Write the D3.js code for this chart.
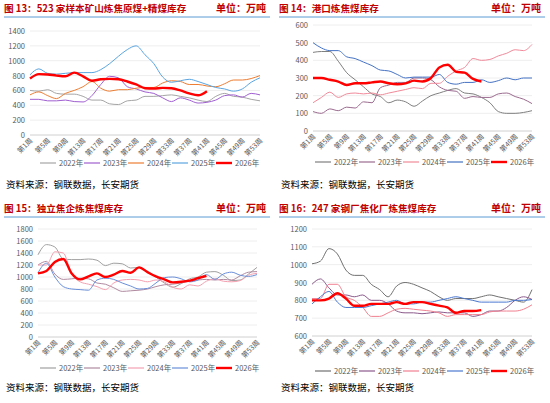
<!DOCTYPE html>
<html><head><meta charset="utf-8">
<script src="https://cdn.jsdelivr.net/npm/d3@7"></script>
<style>body{margin:0;background:#fff}text{font-family:"Noto Sans CJK SC","Noto Sans",sans-serif}</style>
</head><body><div id="chart"></div>
<script>
// weeks 1,3,5,...,53 (2026 to week 41)
const years = ["2022年","2023年","2024年","2025年","2026年"]
const tickWeeks = [1,5,9,13,17,21,25,29,33,37,41,45,49,53]

const p13_2022 = [600,590,610,560,550,550,520,470,470,420,410,460,470,520,520,530,540,520,500,470,450,520,560,520,510,480,460]
const p13_2023 = [480,480,460,460,470,450,445,530,680,790,770,650,620,580,560,500,450,500,470,430,440,470,530,540,510,560,540]
const p13_2024 = [540,580,530,490,560,600,650,720,630,590,610,610,630,640,640,700,730,720,680,680,660,650,690,740,740,760,800]
const p13_2025 = [810,890,830,820,830,840,840,840,880,960,1060,1150,1200,1080,960,780,710,730,750,720,680,640,620,590,620,710,770]
const p13_2026 = [760,820,815,800,790,840,790,730,750,755,750,720,680,630,625,635,630,600,560,535,590]

const p14_2022 = [445,450,450,395,330,290,250,210,195,160,175,165,140,170,200,215,230,240,215,210,190,160,110,100,100,105,115]
const p14_2023 = [110,100,125,115,135,130,165,160,245,260,275,275,300,300,290,250,230,225,185,195,190,190,210,215,195,180,155]
const p14_2024 = [160,190,220,190,210,215,210,215,205,215,225,235,245,240,270,270,310,340,360,410,400,405,425,440,460,455,490]
const p14_2025 = [500,470,455,455,420,410,390,370,345,340,320,300,305,305,305,320,275,265,275,275,290,275,285,300,290,300,300]
const p14_2026 = [300,300,290,280,260,270,270,275,280,270,265,270,285,280,300,360,375,335,330,295,280]

const p15_2022 = [1370,1540,1500,1300,1290,1290,1300,1280,1190,1230,1220,1150,1160,1100,1000,900,830,890,970,1000,1080,1090,1030,940,950,1050,1160]
const p15_2023 = [1200,1260,1050,960,970,980,970,900,880,820,760,770,780,800,840,870,880,900,930,950,960,950,960,950,1020,1080,1090]
const p15_2024 = [1200,1200,1420,1400,1050,920,880,840,790,900,950,960,950,920,950,920,830,800,870,850,930,970,930,920,940,1030,1060]
const p15_2025 = [1070,1230,1000,840,800,790,780,950,980,960,900,850,800,810,900,990,1000,970,920,950,1040,960,1050,1080,1030,1010,1040]
const p15_2026 = [1060,1100,1250,1300,1060,960,1010,1060,1000,1040,1100,1070,1160,1080,1010,960,910,920,940,980,1020]

const p16_2022 = [1005,1020,1090,1060,970,940,940,890,860,820,880,900,890,870,850,820,800,810,810,810,820,830,820,810,800,790,860]
const p16_2023 = [890,920,870,830,830,820,830,800,800,780,740,730,730,725,730,735,730,730,730,710,720,740,740,760,800,820,805]
const p16_2024 = [810,810,890,890,820,800,760,710,710,730,750,755,750,745,740,730,710,720,720,720,720,735,740,740,740,750,775]
const p16_2025 = [780,820,850,790,760,760,760,770,780,790,800,780,780,790,790,800,810,820,810,800,790,790,790,790,800,800,805]
const p16_2026 = [800,800,810,840,810,770,770,780,780,780,790,780,790,790,780,770,760,730,740,740,745]

const panels = [
  {x:0, y:0, title:"图 13：523 家样本矿山炼焦原煤+精煤库存", max:1400, min:0, step:200,
   plot:[30,260,31,135], legendY:163, sourceY:188,
   series:[p13_2022,p13_2023,p13_2024,p13_2025,p13_2026],
   colors:["#a5a5a5","#a05fd0","#ed7d31","#5aa5e0","#ff0000"]},
  {x:275, y:0, title:"图 14：港口炼焦煤库存", max:600, min:0, step:100,
   plot:[38,257,25,131], legendY:162, sourceY:188,
   series:[p14_2022,p14_2023,p14_2024,p14_2025,p14_2026],
   colors:["#7f7f7f","#9b6b8f","#f08a9a","#4472c4","#ff0000"]},
  {x:0, y:200, title:"图 15：独立焦企炼焦煤库存", max:1800, min:0, step:200,
   plot:[38,257,29,137], legendY:168, sourceY:191,
   series:[p15_2022,p15_2023,p15_2024,p15_2025,p15_2026],
   colors:["#a0a0a0","#b08aa0","#f4a0b0","#6a8fd8","#ff0000"]},
  {x:275, y:200, title:"图 16：247 家钢厂焦化厂炼焦煤库存", max:1200, min:600, step:100,
   plot:[37,257,29,136], legendY:171, sourceY:191,
   series:[p16_2022,p16_2023,p16_2024,p16_2025,p16_2026],
   colors:["#707070","#8b5a8b","#f08090","#4a78d0","#ff0000"]}
]

const svg = d3.select("#chart").append("svg").attr("width",550).attr("height",403)

panels.forEach(p => {
  const g = svg.append("g").attr("transform",`translate(${p.x},${p.y})`)
  g.append("text").text(p.title).attr("x",4).attr("y",12)
    .attr("fill","#c00000").style("font-size","9.6px").style("font-weight","bold")
  g.append("text").text("单位：万吨").attr("x",266).attr("y",12).attr("text-anchor","end")
    .attr("fill","#c00000").style("font-size","10px").style("font-weight","bold")
  g.append("line").attr("x1",4).attr("x2",270).attr("y1",17).attr("y2",17)
    .attr("stroke","#5b9bd5").attr("stroke-width",1)

  const [x0,x1,y0,y1] = p.plot
  const xScale = d3.scaleLinear().domain([1,53]).range([x0,x1])
  const yScale = d3.scaleLinear().domain([p.min,p.max]).range([y1,y0])
  const ticks = d3.range(p.min,p.max+1,p.step)

  g.append("g").selectAll("line").data(ticks).join("line")
    .attr("x1",x0).attr("x2",x1).attr("y1",yScale).attr("y2",yScale)
    .attr("stroke",d => d===p.min ? "#d0d0d0" : "#eeeeee")
  g.append("g").selectAll("text").data(ticks).join("text")
    .attr("x",x0-5).attr("y",d => yScale(d)+3).attr("text-anchor","end")
    .attr("fill","#595959").style("font-size","7.5px").text(d => d)

  g.append("g").selectAll("text").data(tickWeeks).join("text")
    .attr("transform",d => `translate(${xScale(d)+3},${y1+6}) rotate(-45)`)
    .attr("text-anchor","end").attr("fill","#595959").style("font-size","7px")
    .text(d => `第${d}周`)

  const line = d3.line().x((d,i) => xScale(1+2*i)).y(d => yScale(d)).curve(d3.curveMonotoneX)
  p.series.forEach((s,k) => {
    g.append("path").attr("d",line(s)).attr("fill","none")
      .attr("stroke",p.colors[k]).attr("stroke-width",k===4 ? 2.4 : 1)
  })

  const lg = g.append("g").attr("transform",`translate(40,${p.legendY})`)
  years.forEach((yr,k) => {
    const lx = k*44
    lg.append("line").attr("x1",lx).attr("x2",lx+16).attr("y1",0).attr("y2",0)
      .attr("stroke",p.colors[k]).attr("stroke-width",k===4 ? 2.4 : 1.2)
    lg.append("text").attr("x",lx+19).attr("y",3).text(yr)
      .attr("fill","#595959").style("font-size","7.5px")
  })

  g.append("text").text("资料来源：钢联数据，长安期货").attr("x",6).attr("y",p.sourceY)
    .attr("fill","#000").style("font-size","9.5px")
})
</script></body></html>
